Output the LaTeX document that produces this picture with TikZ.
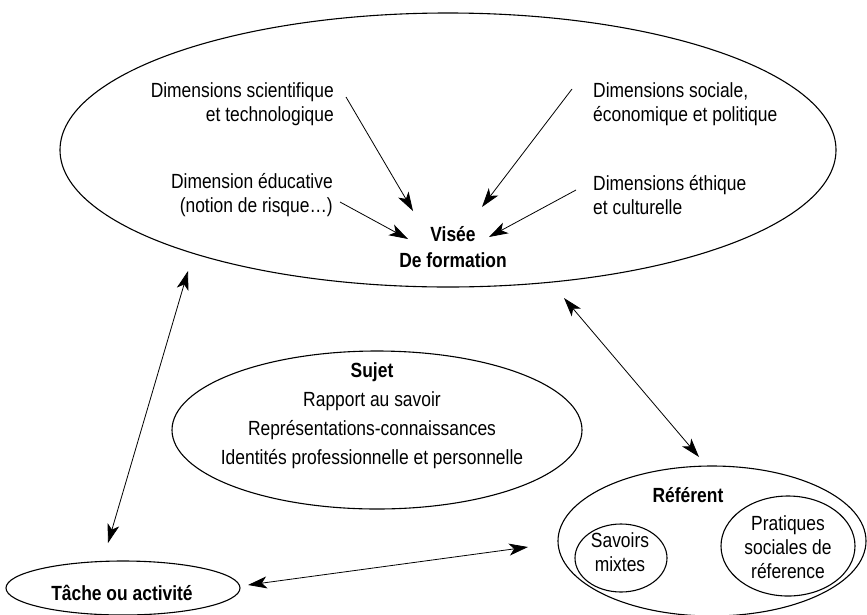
\documentclass[tikz,border=0pt]{standalone}
\usepackage{fontspec}
\setmainfont[FakeStretch=0.85]{Liberation Sans}
\usetikzlibrary{shapes.geometric,arrows.meta}
\begin{document}
\begin{tikzpicture}[x=1pt,y=-1pt,
  ell/.style={draw,ellipse,line width=1.1pt,inner sep=0pt},
  txt/.style={inner sep=0pt,font=\fontsize{20.5}{24}\selectfont},
  tip/.tip={Stealth[length=19pt,width=12pt,inset=5pt]},
  arr/.style={line width=0.8pt,-tip},
  darr/.style={line width=0.8pt,tip-tip}]
\useasboundingbox (0,0) rectangle (867,614);
% ellipses
\node[ell,minimum width=776pt,minimum height=274pt] (big) at (448,150) {};
\node[ell,minimum width=410pt,minimum height=158pt] (sujetE) at (377,430) {};
\node[ell,minimum width=234pt,minimum height=54pt] (tacheE) at (123,588) {};
\node[ell,minimum width=308pt,minimum height=150pt] (refE) at (712,541) {};
\node[ell,minimum width=92pt,minimum height=68pt] (savE) at (621,558) {};
\node[ell,minimum width=134pt,minimum height=100pt] (praE) at (788,546) {};
% texts
\node[txt,align=right,anchor=east] (sci) at (334,104) {Dimensions scientifique\\et technologique};
\node[txt,align=left,anchor=west] (soc) at (593,104) {Dimensions sociale,\\économique et politique};
\node[txt,align=right,anchor=east] (edu) at (333,195) {Dimension éducative\\(notion de risque…)};
\node[txt,align=left,anchor=west] (eth) at (593,195) {Dimensions éthique\\et culturelle};
\node[txt,align=center,font=\fontsize{20.5}{26}\selectfont\bfseries] (visee) at (453,247) {Visée\\De formation};
\node[txt,align=center,font=\fontsize{20.5}{29}\selectfont] (sujet) at (372,416) {\textbf{Sujet}\\Rapport au savoir\\Représentations-connaissances\\Identités professionnelle et personnelle};
\node[txt,font=\fontsize{20.5}{24}\selectfont\bfseries] (tache) at (122,593) {Tâche ou activité};
\node[txt,font=\fontsize{20.5}{24}\selectfont\bfseries] (ref) at (688,495) {Référent};
\node[txt,align=center] (sav) at (620,552) {Savoirs\\mixtes};
\node[txt,align=center] (pra) at (788,547) {Pratiques\\sociales de\\réference};
% arrow ends
\coordinate (a1s) at (346,97);  \coordinate (a1e) at (413,211);
\coordinate (a2s) at (572,89);  \coordinate (a2e) at (482,207);
\coordinate (a3s) at (340,202); \coordinate (a3e) at (408,239);
\coordinate (a4s) at (576,190); \coordinate (a4e) at (489,237);
\draw[arr] (a1s) -- (a1e);
\draw[arr] (a2s) -- (a2e);
\draw[arr] (a3s) -- (a3e);
\draw[arr] (a4s) -- (a4e);
\coordinate (b1a) at (188,271); \coordinate (b1b) at (108,543);
\coordinate (b2a) at (564,298); \coordinate (b2b) at (699,457);
\coordinate (b3a) at (248,585); \coordinate (b3b) at (528,547);
\draw[darr] (b1a) -- (b1b);
\draw[darr] (b2a) -- (b2b);
\draw[darr] (b3a) -- (b3b);
\end{tikzpicture}
\end{document}
